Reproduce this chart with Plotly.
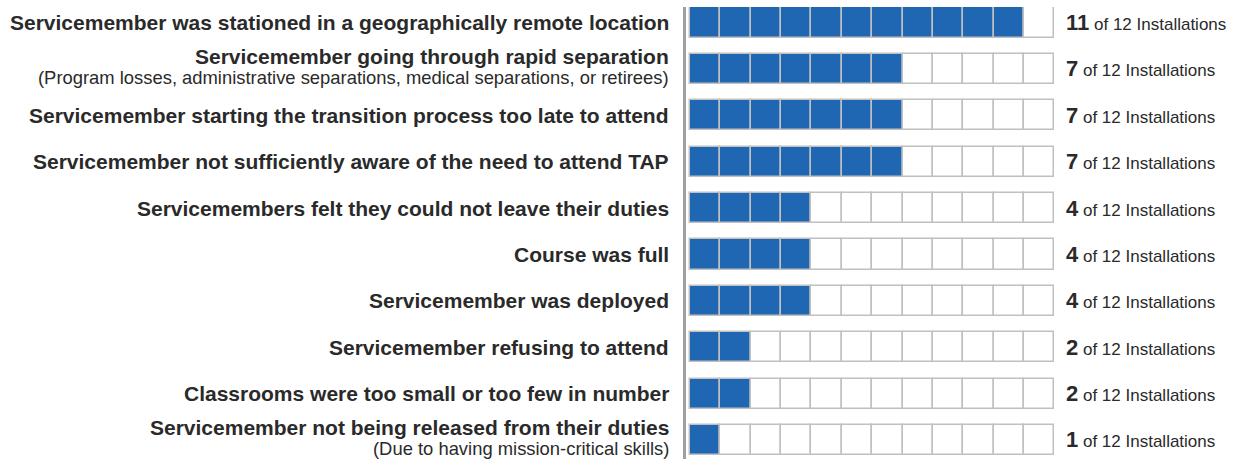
import plotly.graph_objects as go

reasons = [
    "Servicemember was stationed in a geographically remote location",
    "Servicemember going through rapid separation",
    "Servicemember starting the transition process too late to attend",
    "Servicemember not sufficiently aware of the need to attend TAP",
    "Servicemembers felt they could not leave their duties",
    "Course was full",
    "Servicemember was deployed",
    "Servicemember refusing to attend",
    "Classrooms were too small or too few in number",
    "Servicemember not being released from their duties",
]
notes = [
    "",
    "(Program losses, administrative separations, medical separations, or retirees)",
    "", "", "", "", "", "", "",
    "(Due to having mission-critical skills)",
]
installations = [11, 7, 7, 7, 4, 4, 4, 2, 2, 1]
total = 12

BLUE = "#1f66b3"
TXT = "#2a2a2a"
FONT = "Liberation Sans, Arial, sans-serif"

ML, MR = 686, 188
PW = 1243 - ML - MR

rows = list(range(len(reasons)))
fig = go.Figure()
for i in range(total):
    fig.add_trace(go.Bar(
        orientation="h",
        y=rows,
        x=[1] * len(rows),
        base=[i] * len(rows),
        width=0.65,
        marker=dict(
            color=[BLUE if i < v else "white" for v in installations],
            line=dict(color="#c0c0c0", width=1.5),
        ),
        hoverinfo="skip",
        showlegend=False,
    ))

for r, (txt, note, v) in enumerate(zip(reasons, notes, installations)):
    fig.add_annotation(
        x=(671 - ML) / PW, y=r, xref="paper", yref="y", text=f"<b>{txt}</b>",
        showarrow=False, xanchor="right", yanchor="middle", align="right",
        yshift=12 if note else 0,
        font=dict(family=FONT, size=21, color=TXT),
    )
    if note:
        fig.add_annotation(
            x=(671 - ML) / PW, y=r, xref="paper", yref="y", text=note,
            showarrow=False, xanchor="right", yanchor="middle", align="right",
            yshift=-9,
            font=dict(family=FONT, size=18.4, color=TXT),
        )
    fig.add_annotation(
        x=(1064 - ML) / PW, y=r, xref="paper", yref="y",
        text=f"<b><span style='font-size:22px'>{v}</span></b> of {total} Installations",
        showarrow=False, xanchor="left", yanchor="middle", align="left",
        font=dict(family=FONT, size=17, color=TXT),
    )

fig.update_layout(
    width=1243, height=459,
    margin=dict(l=ML, r=MR, t=7, b=0),
    plot_bgcolor="white", paper_bgcolor="white",
    barmode="overlay",
    bargap=0,
    xaxis=dict(range=[-0.13, 12.02], showgrid=False, zeroline=False,
               showticklabels=False, fixedrange=True),
    yaxis=dict(range=[9.41, -0.334], showgrid=False, zeroline=False,
               showticklabels=False, showline=True, linecolor="#a0a0a0",
               linewidth=3, fixedrange=True),
)
fig.write_html("out.html", config={"displayModeBar": False},
               post_script="document.body.style.margin='0';")
